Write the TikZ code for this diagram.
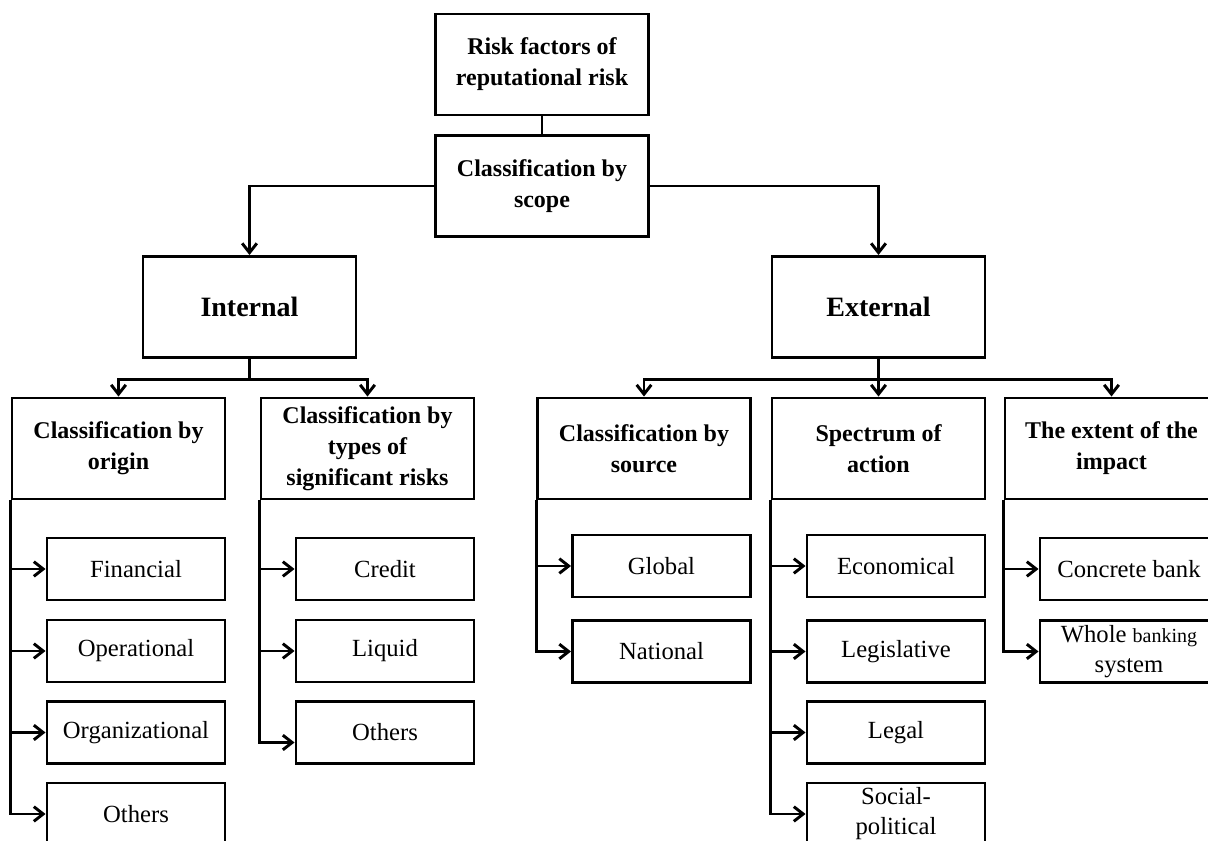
\documentclass[tikz,border=0pt]{standalone}
\usepackage{fontspec}
\setmainfont{Liberation Serif}
\usetikzlibrary{arrows.meta}
\tikzset{
 box/.style={draw, line width=2.2pt, inner sep=0pt, align=center},
 head/.style={box, minimum width=159.75pt, minimum height=75.75pt, font=\fontsize{18}{23.25}\selectfont\bfseries},
 big/.style={box, minimum width=159.75pt, minimum height=75.75pt, font=\fontsize{21}{26}\selectfont\bfseries},
 leaf/.style={box, minimum width=133.5pt, minimum height=46.5pt, font=\fontsize{18.5}{22.5}\selectfont},
 link/.style={line width=2.2pt},
 arr/.style={link, -{Straight Barb[length=7pt,width=11pt]}},
}
\begin{document}
\begin{tikzpicture}[x=0.75pt,y=-0.75pt]
\clip (0,0) rectangle (1208,841);
\fill[white] (0,0) rectangle (1208,841);
% top
\node[head] (risk) at (542,64.5) {Risk factors of\\reputational risk};
\node[head] (scope) at (542,186) {Classification by\\scope};
\node[big] (int) at (249.5,307) {Internal};
\node[big] (ext) at (878.5,307) {External};
% headers
\node[head] (orig) at (118.5,448.5) {Classification by\\origin};
\node[head] (types) at (367.5,448.5) {Classification by\\types of\\significant risks};
\node[head] (src) at (644,448.5) {Classification by\\source};
\node[head] (spec) at (878.5,448.5) {Spectrum of\\action};
\node[head] (extent) at (1111.5,448.5) {The extent of the\\impact};
% leaves: origin
\node[leaf] (fin) at (136,569) {Financial};
\node[leaf] (oper) at (136,651) {Operational};
\node[leaf] (org) at (136,732.5) {Organizational};
\node[leaf] (oth1) at (136,814) {Others};
% leaves: types
\node[leaf] (cred) at (385,569) {Credit};
\node[leaf] (liq) at (385,651) {Liquid};
\node[leaf] (oth2) at (385,732.5) {Others};
% leaves: source
\node[leaf] (glob) at (661.5,566) {Global};
\node[leaf] (nat) at (661.5,651.5) {National};
% leaves: spectrum
\node[leaf] (econ) at (896,566) {Economical};
\node[leaf] (legis) at (896,651.5) {Legislative};
\node[leaf] (legal) at (896,732.5) {Legal};
\node[leaf] (soc) at (896,814) {Social-\\political};
% leaves: extent
\node[leaf] (conc) at (1129,569) {Concrete bank};
\node[leaf] (whole) at (1129,651.5) {Whole {\fontsize{15}{22.5}\selectfont banking}\\system};
% connectors
\draw[link] (risk) -- (scope);
\draw[arr] (scope.west) -| (int.north);
\draw[arr] (scope.east) -| (ext.north);
\draw[link] (int.south) -- ++(0,21) coordinate (ib);
\draw[arr] (ib) -| (orig.north);
\draw[arr] (ib) -| (types.north);
\draw[link] (ext.south) -- ++(0,21) coordinate (eb);
\draw[arr] (eb) -| (src.north);
\draw[arr] (eb) -- (spec.north);
\draw[arr] (eb) -| (extent.north);
\foreach \c in {fin,oper,org,oth1} \draw[arr] (orig.south west) |- (\c.west);
\draw[arr] (types.south west) |- (cred.west);
\draw[arr] (types.south west) |- (liq.west);
\draw[arr] (types.south west) |- ([yshift=-7.5pt]oth2.west);
\draw[arr] (src.south west) |- (glob.west);
\draw[arr] (src.south west) |- (nat.west);
\foreach \c in {econ,legis,legal,soc} \draw[arr] (spec.south west) |- (\c.west);
\draw[arr] (extent.south west) |- (conc.west);
\draw[arr] (extent.south west) |- (whole.west);
\end{tikzpicture}
\end{document}
